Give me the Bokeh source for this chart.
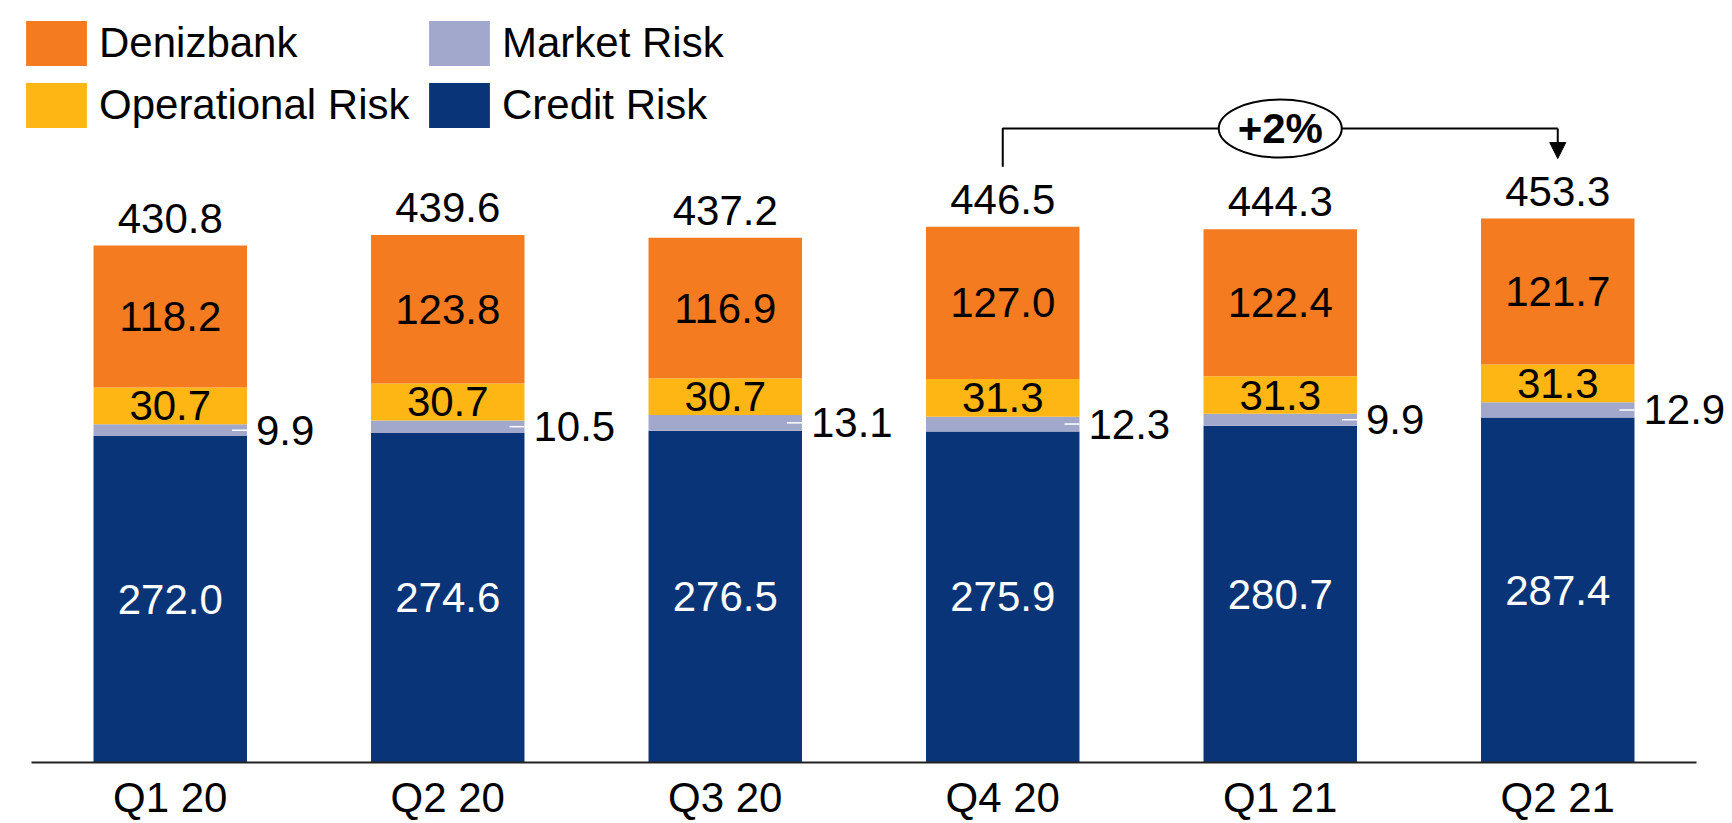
from bokeh.plotting import figure
from bokeh.models import (ColumnDataSource, FactorRange, Range1d, Legend, LegendItem,
                          Arrow, NormalHead, LabelSet)
from bokeh.transform import dodge
from bokeh.core.properties import value
from bokeh.embed import file_html
from bokeh.resources import INLINE

# ---------------- data ----------------
categories = ["Q1 20", "Q2 20", "Q3 20", "Q4 20", "Q1 21", "Q2 21"]
credit_risk = [272.0, 274.6, 276.5, 275.9, 280.7, 287.4]
market_risk = [9.9, 10.5, 13.1, 12.3, 9.9, 12.9]
operational_risk = [30.7, 30.7, 30.7, 31.3, 31.3, 31.3]
denizbank = [118.2, 123.8, 116.9, 127.0, 122.4, 121.7]
totals = [430.8, 439.6, 437.2, 446.5, 444.3, 453.3]
growth_label = "+2%"

# ---------------- style / layout ----------------
FONT = "Liberation Sans"
FS = "42px"
C_DENIZ = "#F47B20"
C_OPER = "#FDB614"
C_MARKET = "#A2A8CC"
C_CREDIT = "#0A3478"

W, H = 1732, 823
RIGHT_BORDER = 5
FRAME_W = W - RIGHT_BORDER
BASE_PX = 762          # pixel row of the category baseline
CAT_PX = 277.5         # pixel width of one category slot
PX_PER_UNIT = 1.2
BAR_W = 0.553

src = ColumnDataSource(dict(
    cat=categories,
    credit=credit_risk,
    market=market_risk,
    oper=operational_risk,
    deniz=denizbank,
    total=totals,
    zero=[0.0] * len(categories),
    credit_mid=[c / 2 for c in credit_risk],
    market_mid=[c + m / 2 for c, m in zip(credit_risk, market_risk)],
    oper_mid=[c + m + o / 2 for c, m, o in zip(credit_risk, market_risk, operational_risk)],
    deniz_mid=[c + m + o + d / 2 for c, m, o, d in zip(credit_risk, market_risk, operational_risk, denizbank)],
    credit_lbl=[f"{v:.1f}" for v in credit_risk],
    market_lbl=[f"{v:.1f}" for v in market_risk],
    oper_lbl=[f"{v:.1f}" for v in operational_risk],
    deniz_lbl=[f"{v:.1f}" for v in denizbank],
    total_lbl=[f"{v:.1f}" for v in totals],
))

pad_units = (FRAME_W - CAT_PX * len(categories)) / 2 / CAT_PX
p = figure(x_range=FactorRange(factors=categories, range_padding=pad_units,
                               range_padding_units="absolute"),
           y_range=Range1d(-(H - BASE_PX) / PX_PER_UNIT, BASE_PX / PX_PER_UNIT),
           width=W, height=H, output_backend="svg", toolbar_location=None,
           min_border=0, min_border_left=0, min_border_right=RIGHT_BORDER,
           min_border_top=0, min_border_bottom=0)

rs = p.vbar_stack(["credit", "market", "oper", "deniz"], x="cat", width=BAR_W, source=src,
                  fill_color=[C_CREDIT, C_MARKET, C_OPER, C_DENIZ], line_color=None)


def labels(x, y, text, color="black", align="center", baseline="middle", xo=0, yo=0):
    ls = LabelSet(x=x, y=y, text=text, source=src, x_offset=xo, y_offset=yo,
                  text_font=value(FONT), text_font_size=value(FS), text_color=color,
                  text_align=align, text_baseline=baseline)
    p.add_layout(ls)
    return ls


labels("cat", "credit_mid", "credit_lbl", color="white")
labels("cat", "oper_mid", "oper_lbl")
labels("cat", "deniz_mid", "deniz_lbl")
labels("cat", "total", "total_lbl", baseline="alphabetic", yo=13)

# market risk labels to the right of the bars with a short white leader
p.segment(x0=dodge("cat", BAR_W / 2 - 0.054, range=p.x_range), y0="market_mid",
          x1=dodge("cat", BAR_W / 2, range=p.x_range), y1="market_mid",
          line_color="white", line_width=1.5, source=src)
labels(dodge("cat", BAR_W / 2, range=p.x_range), "market_mid", "market_lbl",
       align="left", xo=9)

# category axis: baseline + category labels
base_src = ColumnDataSource(dict(x0=[categories[0]], x1=[categories[-1]], y=[0.0]))
p.segment(x0=dodge("x0", -0.5, range=p.x_range), y0="y",
          x1=dodge("x1", 0.5, range=p.x_range), y1="y",
          line_color="#222222", line_width=2, source=base_src)
labels("cat", "zero", "cat", baseline="alphabetic", yo=-49)

# growth bracket Q4 20 -> Q2 21
bracket_y = max(totals) + 75
left_bottom = totals[3] + 50
tip_y = totals[5] + 50
p.line(x=[categories[3], categories[3], categories[5]],
       y=[left_bottom, bracket_y, bracket_y], line_color="black", line_width=2)
arrow_src = ColumnDataSource(dict(x0=[categories[5]], y0=[bracket_y],
                                  x1=[categories[5]], y1=[tip_y]))
p.add_layout(Arrow(x_start="x0", y_start="y0", x_end="x1", y_end="y1", source=arrow_src,
                   line_color="black", line_width=2,
                   end=NormalHead(size=16, fill_color="black", line_color="black", line_width=1)))
p.ellipse(x=[categories[4]], y=[bracket_y], width=123, height=58,
          width_units="screen", height_units="screen",
          fill_color="white", line_color="black", line_width=2)
p.text(x=[categories[4]], y=[bracket_y], text=[growth_label], text_font=value(FONT),
       text_font_size=FS, text_font_style="bold", text_align="center",
       text_baseline="middle", text_color="black")

# axes / grid
p.xaxis.visible = False
p.yaxis.visible = False
p.xgrid.visible = False
p.ygrid.visible = False
p.outline_line_color = None

# legend
items = [LegendItem(label="Denizbank", renderers=[rs[3]]),
         LegendItem(label="Operational Risk", renderers=[rs[2]]),
         LegendItem(label="Market Risk", renderers=[rs[1]]),
         LegendItem(label="Credit Risk", renderers=[rs[0]])]
legend = Legend(items=items, ncols=2, location=(18, 690),
                glyph_width=76, glyph_height=56, label_standoff=5, spacing=6,
                label_width=316, padding=0, margin=0,
                border_line_alpha=0, background_fill_alpha=0,
                label_text_font=FONT, label_text_font_size=FS, label_text_color="black")
p.add_layout(legend)

open("out.html", "w").write(file_html(p, INLINE))
